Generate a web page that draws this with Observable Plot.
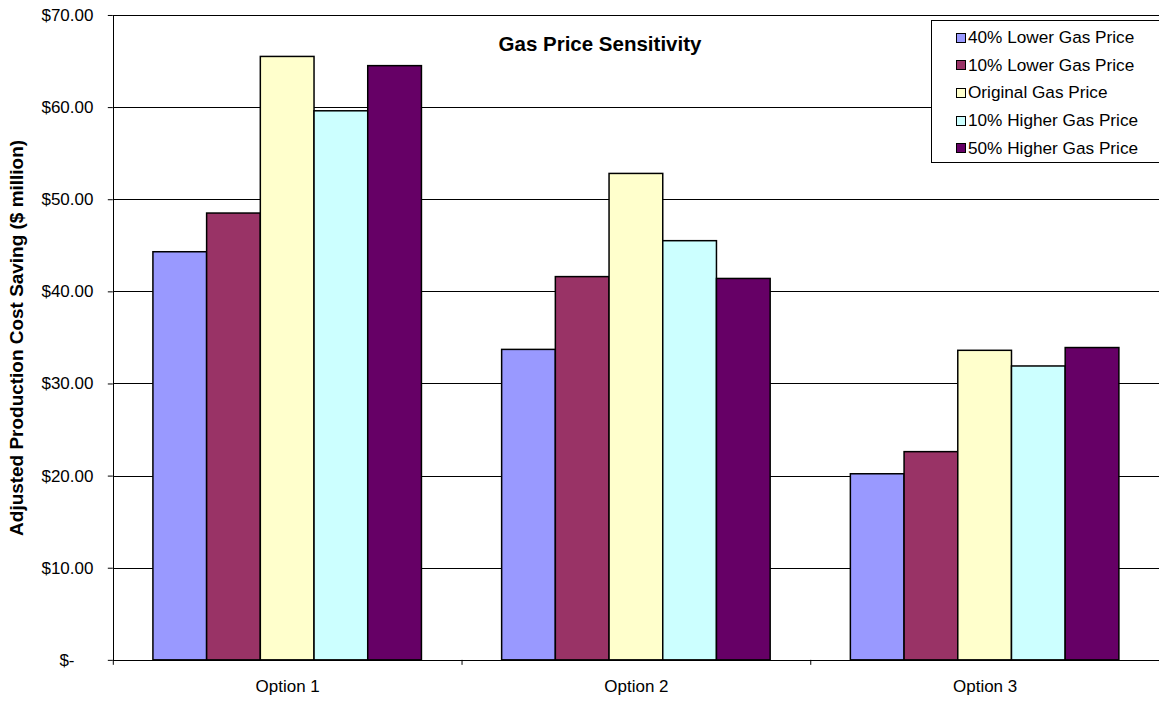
<!DOCTYPE html>
<html>
<head>
<meta charset="utf-8">
<script src="https://cdn.jsdelivr.net/npm/d3@7"></script>
<script src="https://cdn.jsdelivr.net/npm/@observablehq/plot@0.6"></script>
<style>
  html, body { margin: 0; padding: 0; background: #fff; }
  #wrap { position: relative; width: 1159px; height: 702px; overflow: hidden; font-family: "Liberation Sans", Arial, sans-serif; }
  #title { position: absolute; left: 0; width: 1200px; top: 34px; text-align: center; font-weight: bold; font-size: 20.5px; line-height: 20.5px; color: #000; }
  #legend { position: absolute; left: 931px; top: 20px; width: 240px; height: 143px; border: 1px solid #000; background: #fff; box-sizing: border-box; padding-top: 3px; }
  .row { display: flex; align-items: center; height: 27.6px; padding-left: 24px; font-size: 17.2px; color: #000; }
  .sw { width: 10px; height: 10px; border: 1px solid #000; box-sizing: border-box; margin-right: 2px; }
</style>
</head>
<body>
<div id="wrap">
  <div id="chart"></div>
  <div id="title">Gas Price Sensitivity</div>
  <div id="legend"></div>
</div>
<script>
const categories = ["Option 1", "Option 2", "Option 3"];
const seriesNames = ["40% Lower Gas Price", "10% Lower Gas Price", "Original Gas Price", "10% Higher Gas Price", "50% Higher Gas Price"];
const seriesColors = ["#9999FF", "#993366", "#FFFFCC", "#CCFFFF", "#660066"];
const lower40 = [44.3, 33.7, 20.2];
const lower10 = [48.5, 41.6, 22.6];
const original = [65.5, 52.8, 33.6];
const higher10 = [59.6, 45.5, 31.9];
const higher50 = [64.5, 41.4, 33.9];
const yTicks = [0, 10, 20, 30, 40, 50, 60, 70];

const seriesValues = [lower40, lower10, original, higher10, higher50];
const rows = [];
categories.forEach((cat, ci) => {
  seriesNames.forEach((s, si) => {
    rows.push({cat, ci, series: s, si, value: seriesValues[si][ci]});
  });
});

const groupOffset = 0.115, barW = 0.154;
const fmt = v => v === 0 ? "$-\u00a0\u00a0\u00a0\u00a0" : "$" + v.toFixed(2);

const chart = Plot.plot({
  width: 1161,
  height: 702,
  marginLeft: 113,
  marginRight: 0,
  marginTop: 15,
  marginBottom: 41,
  style: {fontFamily: "'Liberation Sans', Arial, sans-serif", fontSize: "17px", color: "#000", background: "#fff"},
  x: {type: "linear", domain: [0, 3]},
  y: {domain: [0, 70]},
  color: {domain: seriesNames, range: seriesColors},
  marks: [
    Plot.ruleY(yTicks.filter(d => d > 0), {stroke: "#000", strokeWidth: 1, shapeRendering: "crispEdges"}),
    Plot.rectY(rows, {
      x1: d => d.ci + groupOffset + d.si * barW,
      x2: d => d.ci + groupOffset + (d.si + 1) * barW,
      y1: 0,
      y2: "value",
      fill: "series",
      stroke: "#000",
      strokeWidth: 1.5
    }),
    Plot.ruleY([0], {stroke: "#000", strokeWidth: 1, shapeRendering: "crispEdges"}),
    Plot.ruleX([0], {y1: 0, y2: 70, stroke: "#000", strokeWidth: 1, shapeRendering: "crispEdges"}),
    Plot.axisY({
      ticks: yTicks, tickFormat: fmt, tickSize: 5, tickPadding: 15,
      label: "Adjusted Production Cost Saving ($ million)", labelAnchor: "center", labelArrow: "none", labelOffset: 104,
      fontSize: 17
    }),
    Plot.axisX({ticks: [0, 1, 2, 3], tickFormat: () => "", tickSize: 5, label: null}),
    Plot.axisX({ticks: categories.map((_, i) => i + 0.5), tickFormat: v => categories[Math.floor(v)], tickSize: 0, tickPadding: 20, label: null, fontSize: 17})
  ]
});
document.getElementById("chart").appendChild(chart);
chart.querySelectorAll("g[aria-label='y-axis label'] text").forEach(t => { t.setAttribute("font-weight", "bold"); t.setAttribute("font-size", "19"); });

const legend = document.getElementById("legend");
seriesNames.forEach((s, i) => {
  const row = document.createElement("div");
  row.className = "row";
  const sw = document.createElement("div");
  sw.className = "sw";
  sw.style.background = seriesColors[i];
  const t = document.createElement("span");
  t.textContent = s;
  row.appendChild(sw); row.appendChild(t);
  legend.appendChild(row);
});
</script>
</body>
</html>
